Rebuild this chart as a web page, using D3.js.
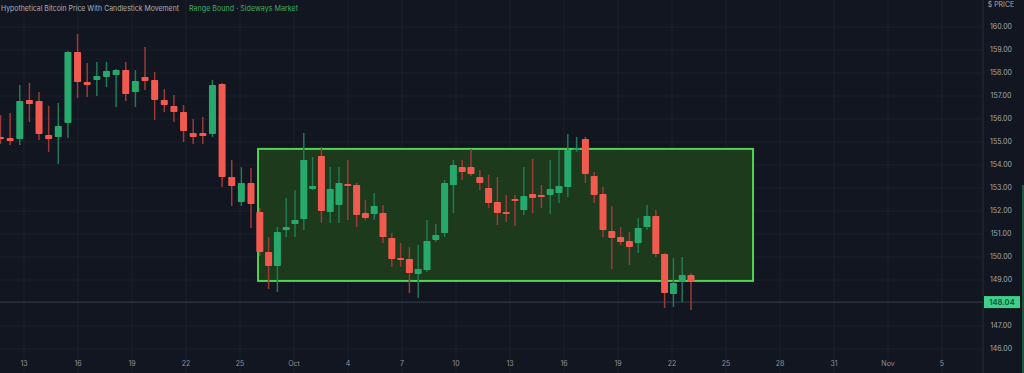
<!DOCTYPE html>
<html><head><meta charset="utf-8">
<script src="https://cdn.jsdelivr.net/npm/d3@7/dist/d3.min.js"></script>
<style>
html,body{margin:0;padding:0;background:#121620;overflow:hidden;}
svg{display:block;font-family:Inter,"DejaVu Sans",sans-serif;}
</style></head>
<body><svg id="c" width="1024" height="373"></svg>
<script>
const titleMain = "Hypothetical Bitcoin Price With Candlestick Movement";
const titleAccent = "Range Bound · Sideways Market";
const open  = [155.22,155.17,155.13,156.83,156.78,155.30,155.22,155.83,158.91,157.61,157.70,157.83,157.91,158.13,157.17,157.83,157.70,156.83,156.57,156.30,155.39,155.39,155.35,157.52,153.48,152.39,153.22,151.96,150.22,149.61,151.17,151.43,151.65,152.96,154.39,151.96,152.26,153.17,153.13,151.91,151.87,151.91,150.83,149.96,149.91,149.26,149.43,150.74,151.04,153.13,153.91,153.91,153.48,153.00,152.39,151.96,152.52,152.04,152.74,152.70,152.70,152.78,153.04,154.65,155.13,153.52,152.74,151.13,150.87,150.70,150.61,151.30,151.78,150.13,148.39,148.91,149.22];
const high  = [156.17,156.26,157.48,157.57,157.17,156.57,156.70,158.96,159.70,158.43,158.48,158.48,158.17,158.48,158.13,159.13,158.04,157.30,157.04,156.61,156.00,156.09,157.70,157.57,154.22,153.91,153.87,152.13,150.87,151.30,152.57,152.91,155.39,154.35,154.78,153.91,153.91,154.22,153.22,152.48,152.78,152.26,151.04,150.61,150.43,150.52,151.61,151.43,153.35,154.22,154.22,154.70,153.78,153.57,153.48,152.70,152.70,153.91,154.26,153.13,154.22,154.65,155.35,155.22,155.22,153.70,153.04,152.22,151.30,151.09,151.70,152.26,152.04,150.17,149.96,150.00,149.30];
const low   = [154.91,154.87,154.87,155.87,155.09,154.57,154.04,155.17,156.91,156.96,157.00,157.39,156.52,156.78,156.52,157.26,155.96,156.30,155.87,155.00,154.91,154.91,155.22,153.04,152.22,152.22,151.26,150.04,148.61,148.48,150.87,150.87,151.17,152.91,151.48,151.48,151.48,151.61,151.30,151.61,151.61,150.61,149.57,149.57,148.43,148.22,149.35,150.65,150.87,151.91,153.35,153.52,152.91,152.13,151.39,151.52,151.35,151.83,151.91,152.13,151.87,152.35,152.61,154.57,153.22,152.35,150.87,149.48,150.52,149.65,150.17,151.17,150.00,147.78,147.83,148.04,147.70];
const close = [155.13,155.04,156.78,156.65,155.35,155.13,155.70,158.91,157.61,157.48,157.87,158.09,158.13,157.09,157.65,157.65,156.83,156.61,156.30,155.48,155.22,155.26,157.48,153.48,153.09,153.22,152.30,150.22,149.61,151.09,151.30,151.61,154.22,153.09,152.00,152.96,153.22,153.13,151.83,151.70,152.22,150.87,149.91,149.91,149.30,149.48,150.70,150.96,153.22,154.00,153.70,153.61,153.22,152.35,151.91,151.87,152.48,152.65,152.57,152.61,152.96,153.09,154.65,154.74,153.61,152.70,151.17,150.83,150.65,150.43,151.26,151.78,150.13,148.43,148.87,149.22,148.91];
const dateLabels = ["13","16","19","22","25","Oct","4","7","10","13","16","19","22","25","28","31","Nov","5"];
const priceTicks = [160,159,158,157,156,155,154,153,152,151,150,149,147,146];
const priceHeader = "$ PRICE";
const currentPrice = 148.04;
const rangeZone = {fromIndex: 26.8, toIndex: 83.05, top: 154.70, bottom: 148.96};

const svg = d3.select("#c");
const W = 1024, H = 373, axisX = 983;

const x = d3.scaleLinear().domain([0, 26, open.length - 1]).range([0.5, 251, 691]);
const y = d3.scaleLinear().domain([146, 160]).range([349, 27]);
const xl = d3.scalePoint().domain(d3.range(dateLabels.length)).range([24, 942]);

// grid
const grid = svg.append("g");
grid.selectAll("line.v").data(dateLabels).join("line")
  .attr("x1", (d,i)=>xl(i)).attr("x2", (d,i)=>xl(i)).attr("y1", 0).attr("y2", H)
  .attr("stroke", "#1a1f2a").attr("stroke-width", 1);
grid.selectAll("line.h").data(priceTicks).join("line")
  .attr("x1", 0).attr("x2", axisX).attr("y1", d=>y(d)).attr("y2", d=>y(d))
  .attr("stroke", "#1a1f2a").attr("stroke-width", 1);

// range zone
svg.append("rect")
  .attr("x", x(rangeZone.fromIndex)).attr("y", y(rangeZone.top))
  .attr("width", x(rangeZone.toIndex) - x(rangeZone.fromIndex))
  .attr("height", y(rangeZone.bottom) - y(rangeZone.top))
  .attr("fill", "#1d3a1d").attr("stroke", "#52d452").attr("stroke-width", 2);

// current price line
svg.append("line").attr("x1", 0).attr("x2", axisX)
  .attr("y1", y(currentPrice)).attr("y2", y(currentPrice))
  .attr("stroke", "#394050").attr("stroke-width", 1);

// candles
const idx = d3.range(open.length);
const up = i => close[i] >= open[i];
const cg = svg.append("g");
cg.selectAll("line").data(idx).join("line")
  .attr("x1", i=>x(i)).attr("x2", i=>x(i))
  .attr("y1", i=>y(high[i])).attr("y2", i=>y(low[i]))
  .attr("stroke", i=>up(i) ? "#1f7a55" : "#9c3a36").attr("stroke-width", 1.5);
cg.selectAll("rect").data(idx).join("rect")
  .attr("x", i=>x(i) - 3.5).attr("width", 7)
  .attr("y", i=>y(Math.max(open[i], close[i])))
  .attr("height", i=>Math.max(2, Math.abs(y(open[i]) - y(close[i]))))
  .attr("rx", 0.8)
  .attr("fill", i=>up(i) ? "#27a96e" : "#f25a50");

// right axis
svg.append("line").attr("x1", axisX).attr("x2", axisX).attr("y1", 0).attr("y2", H)
  .attr("stroke", "#262b36").attr("stroke-width", 1);
svg.append("line").attr("x1", 1023).attr("x2", 1023).attr("y1", 185).attr("y2", H)
  .attr("stroke", "#2f9a5f").attr("stroke-width", 1);
svg.append("text").attr("x", 1001).attr("y", 5).attr("dy", "0.35em")
  .attr("text-anchor", "middle").attr("font-size", 7).attr("fill", "#a3a8b2").text(priceHeader);
svg.append("g").selectAll("text").data(priceTicks).join("text")
  .attr("x", 1001).attr("y", d=>y(d)).attr("dy", "0.35em")
  .attr("text-anchor", "middle").attr("font-size", 7).attr("fill", "#a3a8b2")
  .text(d=>d3.format(".2f")(d));
svg.append("rect").attr("x", 984).attr("y", y(currentPrice) - 6).attr("width", 36).attr("height", 12)
  .attr("fill", "#3fd08c");
svg.append("text").attr("x", 1002).attr("y", y(currentPrice)).attr("dy", "0.35em")
  .attr("text-anchor", "middle").attr("font-size", 7.5).attr("font-weight", "bold").attr("fill", "#17603c")
  .text(d3.format(".2f")(currentPrice));

// x labels
svg.append("g").selectAll("text").data(dateLabels).join("text")
  .attr("x", (d,i)=>xl(i)).attr("y", 364).attr("dy", "0.35em")
  .attr("text-anchor", "middle").attr("font-size", 7).attr("fill", "#8d929c").text(d=>d);

// title
svg.append("text").attr("x", 1).attr("y", 8).attr("dy", "0.35em").attr("font-size", 7.5)
  .attr("fill", "#a9adb6").attr("textLength", 178).attr("lengthAdjust", "spacingAndGlyphs").text(titleMain);
svg.append("text").attr("x", 189).attr("y", 8).attr("dy", "0.35em").attr("font-size", 7.5)
  .attr("fill", "#3fae63").attr("textLength", 109).attr("lengthAdjust", "spacingAndGlyphs").text(titleAccent);
</script></body></html>
